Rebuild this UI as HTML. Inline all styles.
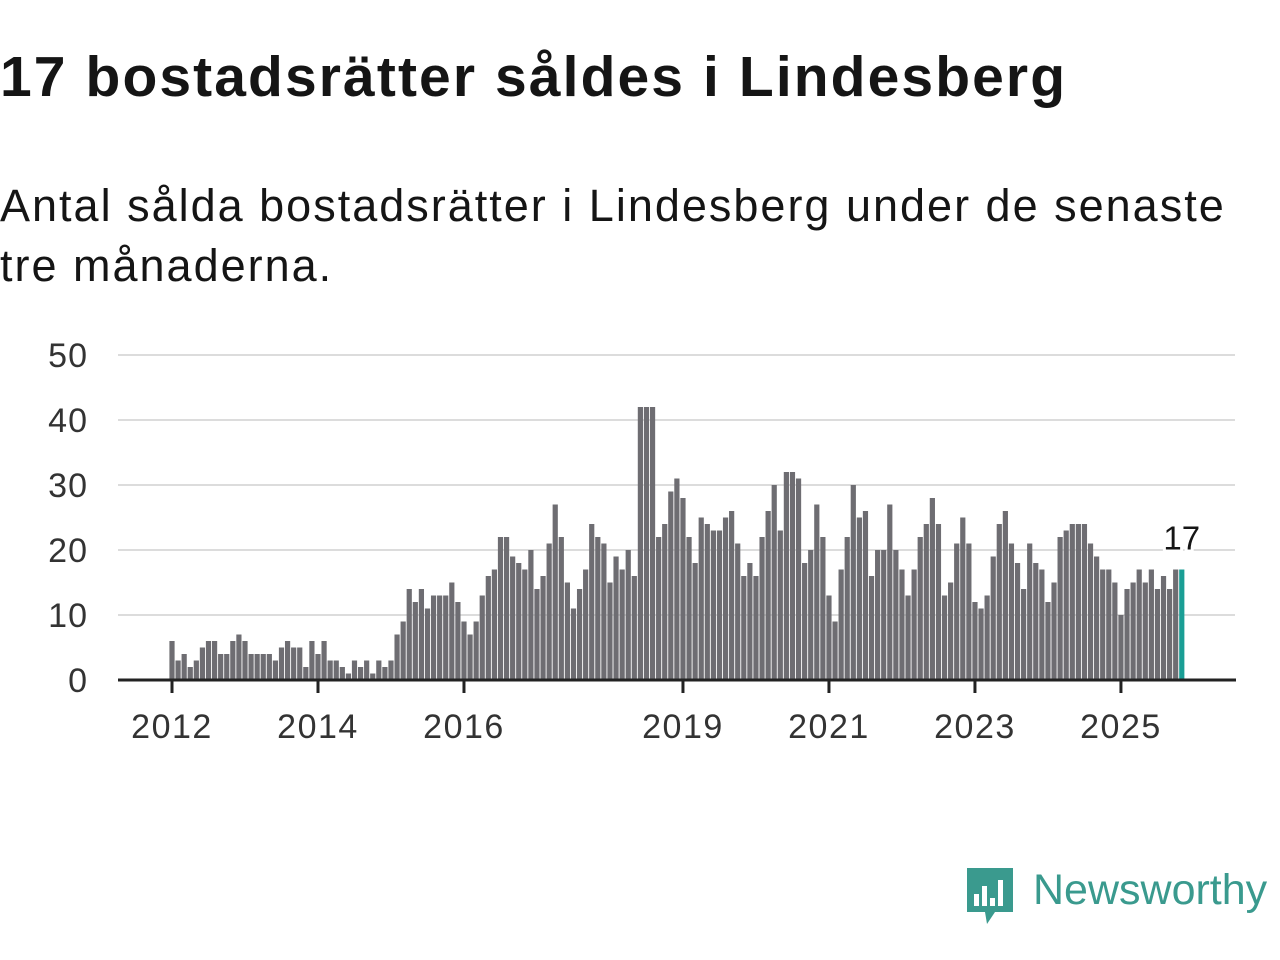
<!DOCTYPE html>
<html><head><meta charset="utf-8"><style>
body{margin:0;width:1280px;height:960px;background:#fff;font-family:"Liberation Sans","DejaVu Sans",sans-serif;color:#151515;overflow:hidden;position:relative}
.t{position:absolute;left:0;top:44px;font-size:57px;font-weight:bold;white-space:nowrap;letter-spacing:2.1px}
.s{position:absolute;left:0;top:176px;font-size:45px;line-height:60px;width:1270px;letter-spacing:2px;white-space:nowrap}
svg{position:absolute;left:0;top:0}
</style></head><body>
<div class="t">17 bostadsrätter såldes i Lindesberg</div>
<div class="s">Antal sålda bostadsrätter i Lindesberg under de senaste<br>tre månaderna.</div>
<svg id="c" width="1280" height="960"></svg>
<script>
const values=[6,3,4,2,3,5,6,6,4,4,6,7,6,4,4,4,4,3,5,6,5,5,2,6,4,6,3,3,2,1,3,2,3,1,3,2,3,7,9,14,12,14,11,13,13,13,15,12,9,7,9,13,16,17,22,22,19,18,17,20,14,16,21,27,22,15,11,14,17,24,22,21,15,19,17,20,16,42,42,42,22,24,29,31,28,22,18,25,24,23,23,25,26,21,16,18,16,22,26,30,23,32,32,31,18,20,27,22,13,9,17,22,30,25,26,16,20,20,27,20,17,13,17,22,24,28,24,13,15,21,25,21,12,11,13,19,24,26,21,18,14,21,18,17,12,15,22,23,24,24,24,21,19,17,17,15,10,14,15,17,15,17,14,16,14,17,17];
const yTicks=[0,10,20,30,40,50];
const xTickYears=[2012,2014,2016,2019,2021,2023,2025];
const startYear=2012;
const NS="http://www.w3.org/2000/svg";
const svg=document.getElementById('c');
const x=i=>172+i*6.083;
const y=v=>680-v*6.5;
function mk(t,a){const e=document.createElementNS(NS,t);for(const k in a)e.setAttribute(k,a[k]);svg.appendChild(e);return e;}
yTicks.forEach(v=>{
  if(v>0){const g=mk('line',{x1:118,x2:1235,y1:y(v),y2:y(v),stroke:'#dcdcdc','stroke-width':2});
  
  }
  const t=mk('text',{x:88,y:y(v)+12,'text-anchor':'end','font-size':34,'letter-spacing':1,fill:'#333'});
  t.textContent=v;
  
  
});
values.forEach((v,i)=>{
  const last=i===values.length-1;
  const r=mk('rect',{x:x(i)-2.6,y:y(v),width:5.2,height:v*6.5,fill:last?'#1a9e95':'#6e6d72'});
  
  
});
const li=values.length-1;
const lab=mk('text',{x:x(li),y:y(values[li])-20,'text-anchor':'middle','font-size':33,fill:'#151515',stroke:'#fff','stroke-width':6,'paint-order':'stroke'});
lab.textContent=values[li];


const ax=mk('line',{x1:118,x2:1236,y1:680,y2:680,stroke:'#222','stroke-width':3});


xTickYears.forEach(yr=>{
  const xx=x((yr-startYear)*12);
  const tk=mk('line',{x1:xx,x2:xx,y1:680,y2:693,stroke:'#222','stroke-width':3});
  
  
  const t=mk('text',{x:xx,y:738,'text-anchor':'middle','font-size':34,'letter-spacing':1.5,fill:'#333'});
  t.textContent=yr;
  
  
});
</script>
<div style="position:absolute;left:965px;top:866px;display:flex;align-items:center">
<svg width="50" height="60" viewBox="0 0 50 60" style="position:static"><path d="M2 2h46v44H30l-8 12-2-12H2z" fill="#3a9a8e"/><rect x="9" y="28" width="5" height="12" fill="#fff"/><rect x="17" y="20" width="5" height="20" fill="#fff"/><rect x="25" y="32" width="5" height="8" fill="#fff"/><rect x="33" y="14" width="5" height="26" fill="#fff"/></svg>
<span style="font-size:43px;color:#3a9a8e;margin-left:18px;margin-top:-12px">Newsworthy</span></div>
</body></html>
